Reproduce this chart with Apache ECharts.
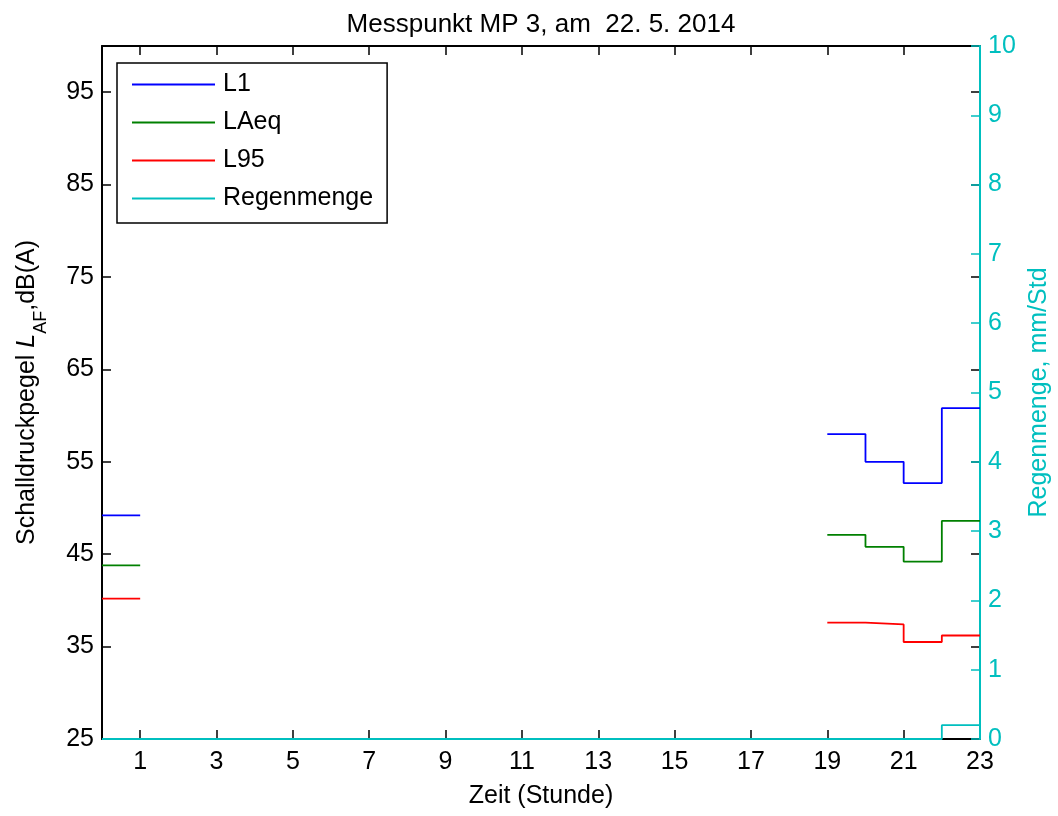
<!DOCTYPE html>
<html>
<head>
<meta charset="utf-8">
<script src="https://cdn.jsdelivr.net/npm/echarts@6/dist/echarts.min.js"></script>
<style>
  html, body { margin: 0; padding: 0; background: #fff; }
  #chart { width: 1058px; height: 816px; }
</style>
</head>
<body>
<div id="chart"></div>
<script>
// start hour of each one-hour block (stairs hold the value until the next hour)
const hours = [0, 1, 2, 3, 4, 5, 6, 7, 8, 9, 10, 11, 12, 13, 14, 15, 16, 17, 18, 19, 20, 21, 22];
const l1 = [49.2, null, null, null, null, null, null, null, null, null, null, null, null, null, null, null, null, null, null, 58.0, 55.0, 52.7, 60.8];
const laeq = [43.8, null, null, null, null, null, null, null, null, null, null, null, null, null, null, null, null, null, null, 47.1, 45.8, 44.2, 48.6];
const l95 = [40.2, null, null, null, null, null, null, null, null, null, null, null, null, null, null, null, null, null, null, 37.6, 37.4, 35.5, 36.2];
const regen = [0, 0, 0, 0, 0, 0, 0, 0, 0, 0, 0, 0, 0, 0, 0, 0, 0, 0, 0, 0, 0, 0, 0.2];

const xTicks = [1, 3, 5, 7, 9, 11, 13, 15, 17, 19, 21, 23];
const yTicks = [25, 35, 45, 55, 65, 75, 85, 95];

const CYAN = "#00BFBF";
const FONT = "'Liberation Sans', Arial, Helvetica, sans-serif";

// MATLAB-like stairs: each value is held from its hour to the next one
function stairs(vals) {
  const pts = [];
  hours.forEach((h, i) => {
    const v = vals[i];
    if (v == null) {
      pts.push([h, null]);
    } else {
      pts.push([h, v]);
      pts.push([h + 1, v]);
    }
  });
  return pts;
}

const chart = echarts.init(document.getElementById("chart"));

const tickStyle = { show: true, inside: true, length: 9, lineStyle: { color: "#000", width: 1.5 } };
const box = { left: 102, right: 78, top: 46, bottom: 77, outerBoundsMode: "none" };

const option = {
  animation: false,
  backgroundColor: "#fff",
  textStyle: { fontFamily: FONT },
  title: {
    text: "Messpunkt MP 3, am  22. 5. 2014",
    left: 536,
    top: 7,
    textAlign: "center",
    textStyle: { fontSize: 26, fontWeight: "normal", color: "#000", fontFamily: FONT },
  },
  legend: {
    orient: "vertical",
    left: 117,
    top: 63,
    padding: [9, 14, 12, 15],
    itemGap: 13,
    itemWidth: 83,
    itemHeight: 2,
    icon: "rect",
    borderColor: "#000",
    borderWidth: 1.5,
    backgroundColor: "#fff",
    textStyle: { fontSize: 25, color: "#000", fontFamily: FONT, padding: [0, 0, 0, 3] },
    data: ["L1", "LAeq", "L95", "Regenmenge"],
  },
  // second grid over the same box only carries the black right-hand ticks of the dB axis
  grid: [Object.assign({}, box), Object.assign({}, box)],
  xAxis: [
    {
      type: "value",
      gridIndex: 0,
      position: "bottom",
      min: 0,
      max: 23,
      name: "Zeit (Stunde)",
      nameLocation: "middle",
      nameGap: 45,
      nameTextStyle: { fontSize: 25, color: "#000", fontFamily: FONT },
      axisLine: { show: true, onZero: false, lineStyle: { color: "#000", width: 2 } },
      axisTick: Object.assign({ customValues: xTicks }, tickStyle),
      axisLabel: { customValues: xTicks, fontSize: 25, color: "#000", margin: 11, fontFamily: FONT },
      splitLine: { show: false },
    },
    {
      type: "value",
      gridIndex: 0,
      position: "top",
      min: 0,
      max: 23,
      axisLine: { show: true, onZero: false, lineStyle: { color: "#000", width: 2 } },
      axisTick: Object.assign({ customValues: xTicks }, tickStyle),
      axisLabel: { show: false },
      splitLine: { show: false },
    },
    {
      type: "value",
      gridIndex: 1,
      min: 0,
      max: 23,
      show: false,
    },
  ],
  yAxis: [
    {
      type: "value",
      gridIndex: 0,
      position: "left",
      min: 25,
      max: 100,
      name: "{n|Schalldruckpegel }{i|L}{s|AF}{n|,dB(A)}",
      nameLocation: "middle",
      nameRotate: 90,
      nameGap: 62,
      nameTextStyle: {
        color: "#000",
        fontSize: 25,
        fontFamily: FONT,
        rich: {
          n: { fontSize: 25, fontFamily: FONT, color: "#000", verticalAlign: "top", lineHeight: 25 },
          i: { fontSize: 25, fontFamily: FONT, color: "#000", fontStyle: "italic", verticalAlign: "top", lineHeight: 25 },
          s: { fontSize: 18, fontFamily: FONT, color: "#000", verticalAlign: "top", lineHeight: 18, padding: [17, 0, 0, 0] },
        },
      },
      axisLine: { show: true, onZero: false, lineStyle: { color: "#000", width: 2 } },
      axisTick: Object.assign({ customValues: yTicks }, tickStyle),
      axisLabel: { customValues: yTicks, fontSize: 25, color: "#000", margin: 8, fontFamily: FONT },
      splitLine: { show: false },
    },
    {
      type: "value",
      gridIndex: 0,
      position: "right",
      min: 0,
      max: 10,
      interval: 1,
      name: "Regenmenge, mm/Std",
      nameLocation: "middle",
      nameRotate: 90,
      nameGap: 42,
      nameTextStyle: { fontSize: 25, color: CYAN, fontFamily: FONT },
      axisLine: { show: true, onZero: false, lineStyle: { color: CYAN, width: 2 } },
      axisTick: { show: true, inside: true, length: 9, lineStyle: { color: CYAN, width: 1.5 } },
      axisLabel: { fontSize: 25, color: CYAN, margin: 8, fontFamily: FONT },
      splitLine: { show: false },
      z: 1,
    },
    {
      type: "value",
      gridIndex: 1,
      position: "right",
      min: 25,
      max: 100,
      axisLine: { show: false, onZero: false },
      axisTick: Object.assign({ customValues: yTicks }, tickStyle),
      axisLabel: { show: false },
      splitLine: { show: false },
    },
  ],
  series: [
    {
      name: "L1",
      type: "line",
      yAxisIndex: 0,
      data: stairs(l1),
      symbol: "none",
      clip: false,
      color: "#0000FF",
      lineStyle: { width: 1.8 },
      z: 3,
    },
    {
      name: "LAeq",
      type: "line",
      yAxisIndex: 0,
      data: stairs(laeq),
      symbol: "none",
      clip: false,
      color: "#008000",
      lineStyle: { width: 1.8 },
      z: 3,
    },
    {
      name: "L95",
      type: "line",
      yAxisIndex: 0,
      data: stairs(l95),
      symbol: "none",
      clip: false,
      color: "#FF0000",
      lineStyle: { width: 1.8 },
      z: 3,
    },
    {
      name: "Regenmenge",
      type: "line",
      yAxisIndex: 1,
      data: stairs(regen),
      symbol: "none",
      clip: false,
      color: CYAN,
      lineStyle: { width: 1.8 },
      z: 3,
    },
  ],
};

chart.setOption(option);
</script>
</body>
</html>
